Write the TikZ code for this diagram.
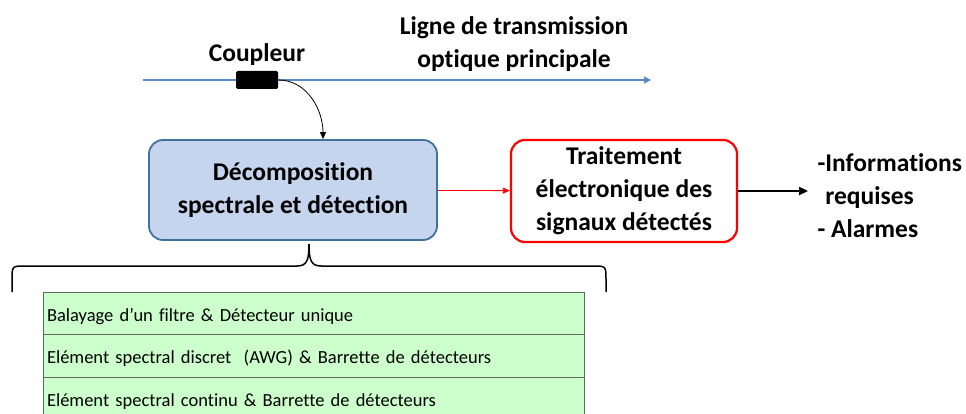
\documentclass[tikz,border=0pt]{standalone}
\usepackage{fontspec}
\setmainfont{Carlito}[RawFeature=-liga]
\usetikzlibrary{positioning,arrows.meta}
\definecolor{fibre}{HTML}{5B87C8}
\definecolor{bluefill}{HTML}{C6D5EE}
\definecolor{blueedge}{HTML}{41719C}
\definecolor{greenfill}{HTML}{CCFFCC}
\definecolor{greenedge}{HTML}{5F6B5F}
\tikzset{
  bigtxt/.style={font=\fontsize{25.5}{33}\selectfont\bfseries},
  decompbox/.style={bigtxt,draw=blueedge,fill=bluefill,line width=1.8pt,rounded corners=14pt,
    minimum width=288pt,minimum height=100pt,align=center,inner sep=0pt},
  traitbox/.style={bigtxt,draw=red,fill=white,line width=2.2pt,rounded corners=14pt,
    minimum width=226pt,minimum height=102pt,align=center,inner sep=0pt},
  rowbox/.style={draw=greenedge,fill=greenfill,line width=0.8pt,minimum width=541pt,
    minimum height=42.5pt,text width=533pt,inner xsep=4pt,inner ysep=0pt,align=left,
    text height=18pt,text depth=2pt,font=\fontsize{18.5}{22}\selectfont},
}
\begin{document}
\begin{tikzpicture}[x=1pt,y=-1pt]
  \useasboundingbox (0,0) rectangle (966,414);
  \clip (0,0) rectangle (966,414);
  % main line & coupler
  \coordinate (lstart) at (143,80);
  \coordinate (lend) at (651,80);
  \draw[fibre,line width=1.1pt,-{Triangle[length=7pt,width=7pt]}] (lstart) -- (lend);
  \node[fill=black,rounded corners=1.5pt,minimum width=42pt,minimum height=18pt,inner sep=0pt]
    (coupler) at (257,80) {};
  \node[bigtxt,above=2pt of coupler] (couplab) {Coupleur};
  \node[bigtxt,align=center] (linelab) at (514,44) {Ligne de transmission\\optique principale};
  % blocks
  \node[decompbox] (decomp) at (293,190) {Décomposition\\spectrale et détection};
  \node[traitbox] (trait) at (624,191) {Traitement\\électronique des\\signaux détectés};
  \node[bigtxt,anchor=west,align=left] (out) at (814,196)
    {-Informations\\\hphantom{-}requises\\- Alarmes};
  \coordinate (tap) at ([xshift=30pt]decomp.north);
  \draw[line width=0.8pt,-{Triangle[length=7pt,width=6pt]}]
    (coupler.east) to[out=0,in=90] (tap);
  \draw[red,line width=0.8pt,-{Triangle[length=7pt,width=6pt]}] (decomp) -- (trait);
  \draw[line width=1.8pt,-{Triangle[length=9pt,width=8pt]}] (trait.east) -- ++(70,0) coordinate (outtip);
  % methods
  \foreach \i/\txt in {1/{Balayage d’un filtre \& Détecteur unique},
                       2/{Elément spectral discret\ \ (AWG) \& Barrette de détecteurs},
                       3/{Elément spectral continu \& Barrette de détecteurs}}{
    \node[rowbox] (row\i) at (313.5,{313.25+42.5*(\i-1)}) {\txt};
  }
  % brace
  \draw[line width=1.5pt] (12,292) -- (12,280) .. controls (12,266) .. (25,266) -- (297,266)
    .. controls (307,266) and (309,260) .. (309,244)
    .. controls (309,260) and (311,266) .. (321,266) -- (593,266)
    .. controls (606,266) .. (606,280) -- (606,292);
\end{tikzpicture}
\end{document}
